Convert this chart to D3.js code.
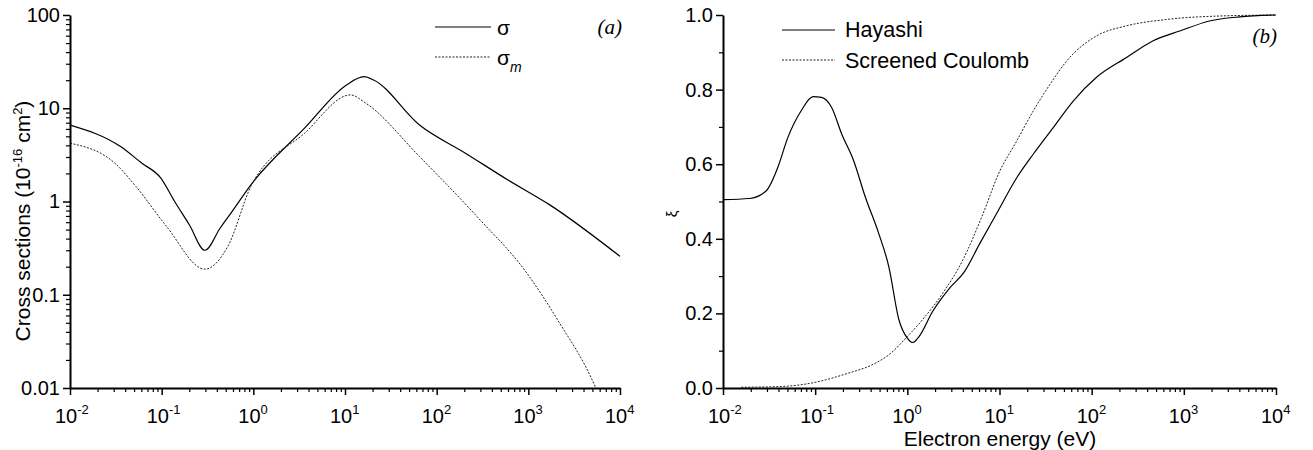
<!DOCTYPE html>
<html>
<head>
<meta charset="utf-8">
<script src="https://cdn.jsdelivr.net/npm/d3@7.9.0/dist/d3.min.js"></script>
<style>
  body { margin: 0; background: #fff; }
  svg text { font-family: "Liberation Sans", Arial, sans-serif; fill: #000; }
</style>
</head>
<body>
<svg id="chart" width="1313" height="450"></svg>
<script>
// ---- data ----
// (a) total and momentum-transfer cross sections, energy in eV
const sigmaE  = [0.01, 0.0356, 0.06, 0.098, 0.137, 0.201, 0.296, 0.435, 0.58, 0.94, 3.62, 10.4, 16.1, 20.5, 65, 206, 594, 1714, 10000];
const sigmaV  = [6.6, 3.88, 2.6, 1.78, 1.02, 0.56, 0.30, 0.52, 0.77, 1.51, 6.11, 17.8, 21.8, 20.1, 6.62, 3.30, 1.71, 0.92, 0.258];
const sigmaME = [0.01, 0.0308, 0.0524, 0.113, 0.296, 0.527, 0.94, 3.62, 11.5, 16.9, 65, 275, 962, 2080, 5445, 6600];
const sigmaMV = [4.22, 2.58, 1.45, 0.54, 0.188, 0.33, 1.45, 5.4, 13.9, 11.3, 3.03, 0.69, 0.171, 0.054, 0.01, 0.0063];

// (b) xi vs electron energy
const hayashiE = [0.01, 0.0193, 0.0293, 0.0394, 0.0506, 0.0708, 0.095, 0.117, 0.151, 0.194, 0.261, 0.35, 0.49, 0.63, 0.81, 1.0, 1.15, 1.34, 1.88, 2.86, 4.17, 6.1, 9.27, 15.5, 23.4, 38.5, 63.4, 113, 239, 465, 902, 1900, 4020, 10000];
const hayashiV = [0.505, 0.508, 0.528, 0.592, 0.672, 0.744, 0.781, 0.779, 0.752, 0.681, 0.61, 0.512, 0.414, 0.325, 0.183, 0.134, 0.122, 0.138, 0.205, 0.267, 0.312, 0.387, 0.467, 0.565, 0.628, 0.699, 0.77, 0.833, 0.886, 0.931, 0.957, 0.984, 0.995, 1.0];
const coulombE = [0.0158, 0.0428, 0.099, 0.23, 0.414, 0.63, 1.0, 1.46, 2.42, 4.0, 6.62, 10, 14.8, 23.4, 35.5, 53.7, 113, 239, 647, 2244, 10000];
const coulombV = [0.002, 0.004, 0.015, 0.04, 0.062, 0.089, 0.138, 0.183, 0.254, 0.343, 0.467, 0.58, 0.655, 0.744, 0.815, 0.877, 0.944, 0.971, 0.988, 0.997, 1.0];

// ticks
const xExponents = [-2, -1, 0, 1, 2, 3, 4];
const leftYTicks = [0.01, 0.1, 1, 10, 100];
const leftYLabels = ['0.01', '0.1', '1', '10', '100'];
const rightYTicks = [0, 0.2, 0.4, 0.6, 0.8, 1.0];
const rightYLabels = ['0.0', '0.2', '0.4', '0.6', '0.8', '1.0'];
const rightYMinor = [0.1, 0.3, 0.5, 0.7, 0.9];

const svg = d3.select('#chart');
const plotTop = 15, plotBottom = 388;

const zip = (a, b) => a.map((v, i) => [v, b[i]]);

// minor ticks 2..9 inside each decade
function logMinors(lo, hi) {
  const out = [];
  for (let e = lo; e < hi; e++) for (let k = 2; k <= 9; k++) out.push(k * Math.pow(10, e));
  return out;
}

function styleAxis(g, width) {
  g.select('.domain').attr('stroke-width', 2);
  g.selectAll('.tick line').attr('stroke-width', width);
}

function xAxis(x) {
  const g = svg.append('g').attr('transform', `translate(0,${plotBottom})`);
  g.call(d3.axisBottom(x).tickValues(xExponents.map(e => Math.pow(10, e))).tickSize(7).tickSizeOuter(0).tickFormat(''));
  styleAxis(g, 1.5);
  const m = svg.append('g').attr('transform', `translate(0,${plotBottom})`)
    .call(d3.axisBottom(x).tickValues(logMinors(-2, 4)).tickSize(4).tickFormat(''));
  m.select('.domain').remove();
  m.selectAll('.tick line').attr('stroke-width', 1.2);

  xExponents.forEach(e => {
    const t = svg.append('text')
      .attr('x', x(Math.pow(10, e)) - 15)
      .attr('y', plotBottom + 35)
      .attr('font-size', 20);
    t.append('tspan').text('10');
    t.append('tspan').attr('dy', -9).attr('font-size', 13).text(e < 0 ? '-' + (-e) : e);
  });
}

// ---- panel (a) ----
const xL = d3.scaleLog().domain([0.01, 10000]).range([70, 620]);
const yL = d3.scaleLog().domain([0.01, 100]).range([plotBottom, plotTop]);

svg.append('clipPath').attr('id', 'clipA')
  .append('rect').attr('x', 70).attr('y', plotTop - 2).attr('width', 552).attr('height', plotBottom - plotTop + 2);

const gA = svg.append('g').attr('clip-path', 'url(#clipA)');
const lineA = d3.line().x(d => xL(d[0])).y(d => yL(d[1])).curve(d3.curveMonotoneX);

gA.append('path').attr('d', lineA(zip(sigmaE, sigmaV)))
  .attr('fill', 'none').attr('stroke', '#000').attr('stroke-width', 1.2);
gA.append('path').attr('d', lineA(zip(sigmaME, sigmaMV)))
  .attr('fill', 'none').attr('stroke', '#222').attr('stroke-width', 1).attr('stroke-dasharray', '2,1.5');

const yAxA = svg.append('g').attr('transform', 'translate(70,0)')
  .call(d3.axisLeft(yL).tickValues(leftYTicks).tickSize(7).tickSizeOuter(0).tickPadding(3)
    .tickFormat((d, i) => leftYLabels[i]));
styleAxis(yAxA, 1.5);
yAxA.selectAll('.tick text').attr('font-size', 20).attr('font-family', '"Liberation Sans", Arial, sans-serif');
const yMinA = svg.append('g').attr('transform', 'translate(70,0)')
  .call(d3.axisLeft(yL).tickValues(logMinors(-2, 2)).tickSize(4).tickFormat(''));
yMinA.select('.domain').remove();
yMinA.selectAll('.tick line').attr('stroke-width', 1.2);

xAxis(xL);

const yTitle = svg.append('text')
  .attr('transform', 'translate(30,221) rotate(-90)')
  .attr('text-anchor', 'middle').attr('font-size', 21);
yTitle.append('tspan').text('Cross sections (10');
yTitle.append('tspan').attr('dy', -8).attr('font-size', 13).text('-16');
yTitle.append('tspan').attr('dy', 8).text(' cm');
yTitle.append('tspan').attr('dy', -8).attr('font-size', 13).text('2');
yTitle.append('tspan').attr('dy', 8).text(')');

// legend (a)
svg.append('line').attr('x1', 435).attr('x2', 491).attr('y1', 27).attr('y2', 27)
  .attr('stroke', '#000').attr('stroke-width', 1.2);
svg.append('line').attr('x1', 435).attr('x2', 491).attr('y1', 57).attr('y2', 57)
  .attr('stroke', '#222').attr('stroke-width', 1).attr('stroke-dasharray', '2,1.5');
svg.append('text').attr('x', 497).attr('y', 35).attr('font-size', 21).text('σ');
const sm = svg.append('text').attr('x', 497).attr('y', 65).attr('font-size', 21);
sm.append('tspan').text('σ');
sm.append('tspan').attr('dy', 7).attr('font-size', 14).attr('font-style', 'italic').text('m');

svg.append('text').attr('x', 622).attr('y', 34).attr('text-anchor', 'end')
  .attr('font-size', 21).attr('font-style', 'italic')
  .style('font-family', '"Liberation Serif", serif').text('(a)');

// ---- panel (b) ----
const xR = d3.scaleLog().domain([0.01, 10000]).range([723, 1276]);
const yR = d3.scaleLinear().domain([0, 1]).range([plotBottom, plotTop]);

const lineB = d3.line().x(d => xR(d[0])).y(d => yR(d[1])).curve(d3.curveMonotoneX);
svg.append('path').attr('d', lineB(zip(coulombE, coulombV)))
  .attr('fill', 'none').attr('stroke', '#222').attr('stroke-width', 1).attr('stroke-dasharray', '2,1.5');
svg.append('path').attr('d', lineB(zip(hayashiE, hayashiV)))
  .attr('fill', 'none').attr('stroke', '#000').attr('stroke-width', 1.2);

const yAxB = svg.append('g').attr('transform', 'translate(723,0)')
  .call(d3.axisLeft(yR).tickValues(rightYTicks).tickSize(7).tickSizeOuter(0).tickPadding(3)
    .tickFormat((d, i) => rightYLabels[i]));
styleAxis(yAxB, 1.5);
yAxB.selectAll('.tick text').attr('font-size', 20).attr('font-family', '"Liberation Sans", Arial, sans-serif');
const yMinB = svg.append('g').attr('transform', 'translate(723,0)')
  .call(d3.axisLeft(yR).tickValues(rightYMinor).tickSize(4).tickFormat(''));
yMinB.select('.domain').remove();
yMinB.selectAll('.tick line').attr('stroke-width', 1.2);

xAxis(xR);

svg.append('text').attr('transform', 'translate(677,214) rotate(-90)')
  .attr('text-anchor', 'middle').attr('font-size', 15).text('ξ');

svg.append('text').attr('x', 1000).attr('y', 446).attr('text-anchor', 'middle')
  .attr('font-size', 21).text('Electron energy (eV)');

// legend (b)
svg.append('line').attr('x1', 782).attr('x2', 835).attr('y1', 30).attr('y2', 30)
  .attr('stroke', '#000').attr('stroke-width', 1.2);
svg.append('line').attr('x1', 782).attr('x2', 835).attr('y1', 60).attr('y2', 60)
  .attr('stroke', '#222').attr('stroke-width', 1).attr('stroke-dasharray', '2,1.5');
svg.append('text').attr('x', 845).attr('y', 37).attr('font-size', 21.5).text('Hayashi');
svg.append('text').attr('x', 845).attr('y', 68).attr('font-size', 21.5).text('Screened Coulomb');

svg.append('text').attr('x', 1277).attr('y', 43).attr('text-anchor', 'end')
  .attr('font-size', 21).attr('font-style', 'italic')
  .style('font-family', '"Liberation Serif", serif').text('(b)');
</script>
</body>
</html>
